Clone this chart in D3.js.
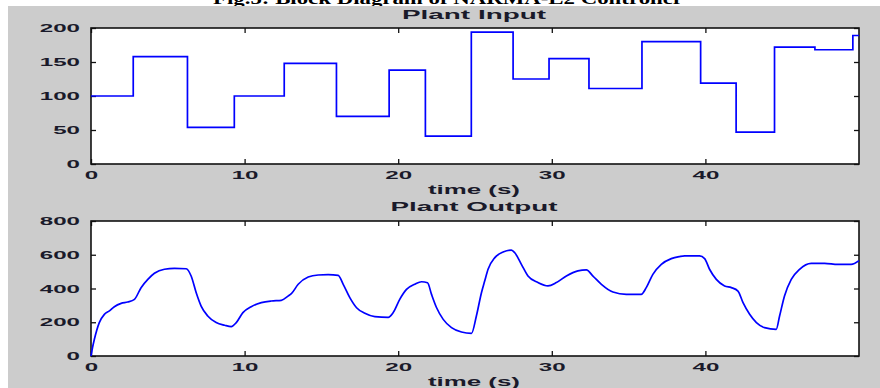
<!DOCTYPE html>
<html>
<head>
<script src="https://d3js.org/d3.v7.min.js"></script>
<title>Plant Input / Output</title>
<style>
  body { margin: 0; background-color: white; }
  svg text { font-family: 'Liberation Sans', Arial, sans-serif; fill: #1a1a2a; }
</style>
</head>
<body>
<div id="chart"></div>
<script>
  // DATA
  // plant input: a staircase, value holds from each time until the next
  var inputTimes  = [0, 2.75, 6.28, 9.33, 12.58, 15.98, 19.41, 21.77, 24.76, 27.48, 29.82, 32.42, 35.87, 39.69, 42.0, 44.5, 47.13, 49.6, 50];
  var inputValues = [100, 158, 54, 100, 148, 70, 138, 41, 194, 125, 155, 111, 180, 119, 47, 172, 168, 189, 189];

  // plant output: smooth response
  var outputTimes = [0, 0.1, 0.22, 0.54, 0.87, 1.2, 1.52, 1.96, 2.39, 2.83, 3.26, 3.7, 4.13, 4.78, 5.43, 6.2,
      6.52, 6.85, 7.17, 7.6, 8.15, 8.7, 9.13, 9.46, 9.89, 10.43, 11.09, 11.74, 12.39, 12.83,
      13.06, 13.49, 14.14, 14.79, 15.44, 16.09, 16.42, 16.85, 17.29, 17.83, 18.48, 19.35, 19.67,
      20.1, 20.54, 21.08, 21.52, 21.91, 22.17, 22.5, 22.93, 23.47, 24.12, 24.77, 25.09, 25.42,
      25.63, 25.85, 26.29, 26.83, 27.37, 27.59, 28.02, 28.45, 29.1, 29.75, 30.3, 30.95, 31.7,
      32.25, 32.68, 33.23, 33.98, 34.85, 35.82, 36.15, 36.58, 37.13, 37.78, 38.32, 38.65, 39.62,
      39.95, 40.27, 40.71, 41.25, 41.69, 42.12, 42.45, 42.88, 43.32, 43.85, 44.61, 44.83, 45.15,
      45.59, 46.13, 46.89, 47.76, 48.62, 49.49, 50];
  var outputValues = [0, 50, 99, 198, 247, 267, 292, 312, 320, 336, 405, 454, 490, 514, 519, 517,
      474, 375, 296, 237, 198, 182, 174, 198, 257, 292, 316, 326, 330, 355,
      371, 425, 468, 480, 482, 478, 425, 346, 286, 253, 233, 229, 257,
      336, 395, 425, 440, 434, 365, 286, 217, 168, 142, 134, 237, 375,
      444, 514, 583, 616, 628, 612, 543, 474, 435, 415, 435, 474, 504,
      510, 474, 425, 379, 365, 365, 405, 484, 543, 577, 589, 593, 593,
      577, 514, 454, 415, 405, 385, 316, 247, 198, 168, 158, 237, 356,
      454, 514, 549, 549, 543, 543, 565];

  var xTicks = [0, 10, 20, 30, 40];
  var inputTicks = [0, 50, 100, 150, 200];
  var outputTicks = [0, 200, 400, 600, 800];

  var svg = d3.select("#chart").append("svg")
      .attr("width", 880)
      .attr("height", 388);

  // cut-off caption of the source document
  svg.append("text")
      .attr("x", 448)
      .attr("y", 4)
      .attr("text-anchor", "middle")
      .attr("textLength", 470)
      .attr("lengthAdjust", "spacingAndGlyphs")
      .style("font-family", "'Liberation Serif', serif")
      .style("font-weight", "bold")
      .style("font-size", "16px")
      .style("fill", "black")
      .text("Fig.5: Block Diagram of NARMA-L2 Controller");

  // figure background
  svg.append("rect")
      .attr("x", 8).attr("y", 6)
      .attr("width", 872).attr("height", 382)
      .style("fill", "#cccccc");

  var left = 91, right = 859;
  var TEXT_SCALE = 2.1;

  function drawPanel(opts) {
    var x = d3.scaleLinear().domain([0, 50]).range([left, right]);
    var y = d3.scaleLinear().domain(opts.yDomain).range([opts.bottom, opts.top]);
    var g = svg.append("g");

    g.append("rect")
        .attr("x", left).attr("y", opts.top)
        .attr("width", right - left).attr("height", opts.bottom - opts.top)
        .style("fill", "white");

    // axes, ticks inward
    var ax = g.append("g").attr("transform", "translate(0," + opts.bottom + ")")
        .call(d3.axisBottom(x).tickValues(xTicks).tickSizeInner(-5).tickSizeOuter(0).tickPadding(7));
    ax.selectAll("text").attr("transform", "scale(" + TEXT_SCALE + ",1)");

    g.append("g").attr("transform", "translate(0," + opts.top + ")")
        .call(d3.axisTop(x).tickValues(xTicks).tickSizeInner(-5).tickSizeOuter(0).tickFormat(""));

    var ay = g.append("g").attr("transform", "translate(" + left + ",0)")
        .call(d3.axisLeft(y).tickValues(opts.yTicks).tickSizeInner(-5).tickSizeOuter(0).tickPadding(11));
    ay.selectAll("text").each(function() {
      var t = d3.select(this);
      var tx = +t.attr("x");
      t.attr("x", 0).attr("transform", "translate(" + tx + ",0) scale(" + TEXT_SCALE + ",1)");
    });

    g.append("g").attr("transform", "translate(" + right + ",0)")
        .call(d3.axisRight(y).tickValues(opts.yTicks).tickSizeInner(-5).tickSizeOuter(0).tickFormat(""));

    g.selectAll(".domain").remove();
    g.selectAll(".tick line").style("stroke", "#111").style("stroke-width", 1.3);
    g.selectAll(".tick text")
        .style("font-size", "11.5px")
        .style("font-weight", "bold")
        .style("font-family", "'Liberation Sans', Arial, sans-serif")
        .style("fill", "#1a1a2a");

    g.append("rect")
        .attr("x", left).attr("y", opts.top)
        .attr("width", right - left).attr("height", opts.bottom - opts.top)
        .style("fill", "none")
        .style("stroke", "#111")
        .style("stroke-width", 1.6);

    var pts = opts.times.map(function(t, i) { return {t: t, v: opts.values[i]}; });
    var line = d3.line()
        .x(function(d) { return x(d.t); })
        .y(function(d) { return y(d.v); })
        .curve(opts.curve);

    g.append("path")
        .attr("d", line(pts))
        .style("fill", "none")
        .style("stroke", "#0000ff")
        .style("stroke-width", 1.7);

    // title and x label
    g.append("text")
        .attr("x", 474).attr("y", opts.titleY)
        .attr("text-anchor", "middle")
        .attr("textLength", opts.titleWidth)
        .attr("lengthAdjust", "spacingAndGlyphs")
        .style("font-size", "12.5px")
        .style("font-weight", "bold")
        .text(opts.title);

    g.append("text")
        .attr("x", 474).attr("y", opts.labelY)
        .attr("text-anchor", "middle")
        .attr("textLength", 92)
        .attr("lengthAdjust", "spacingAndGlyphs")
        .style("font-size", "12px")
        .style("font-weight", "bold")
        .text("time (s)");
  }

  drawPanel({
    top: 28, bottom: 164, yDomain: [0, 200], yTicks: inputTicks,
    times: inputTimes, values: inputValues, curve: d3.curveStepAfter,
    title: "Plant Input", titleY: 19, titleWidth: 144, labelY: 194
  });

  drawPanel({
    top: 221, bottom: 356, yDomain: [0, 800], yTicks: outputTicks,
    times: outputTimes, values: outputValues, curve: d3.curveMonotoneX,
    title: "Plant Output", titleY: 211, titleWidth: 167, labelY: 386
  });
</script>
</body>
</html>
